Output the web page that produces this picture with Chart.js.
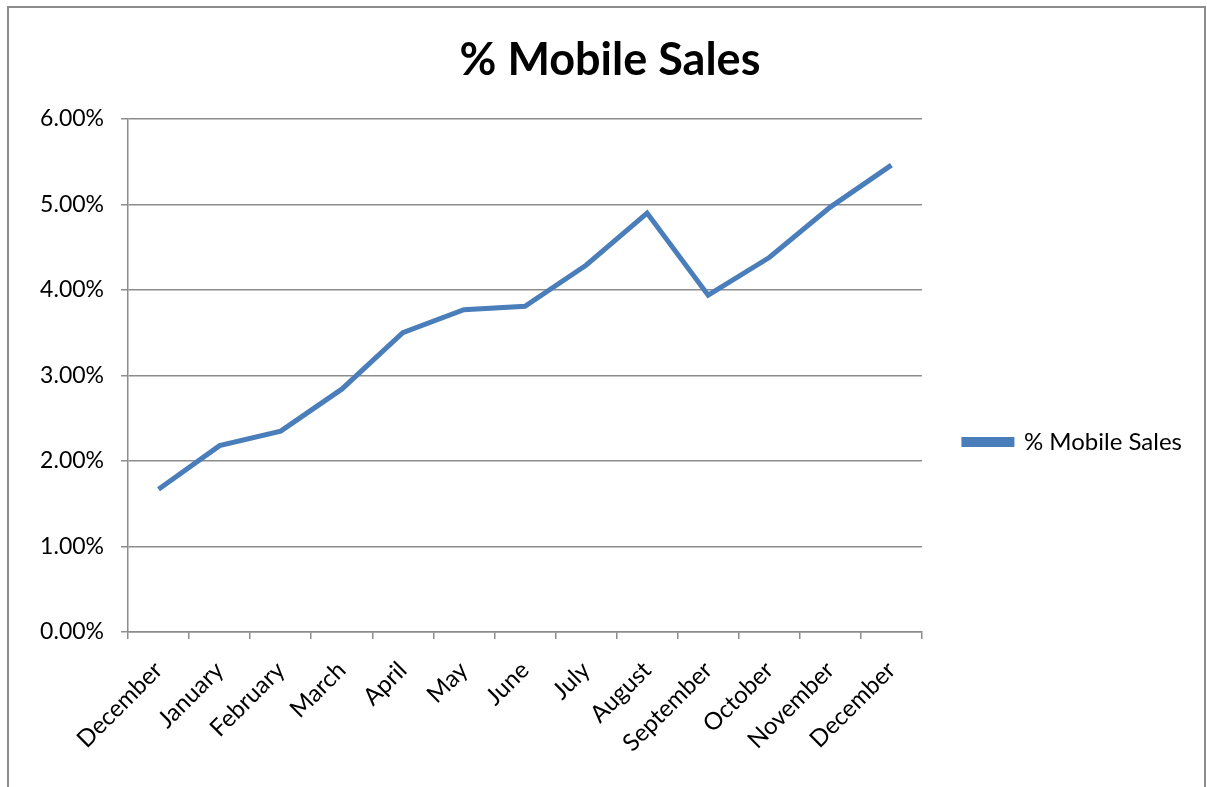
<!DOCTYPE html>
<html>
<head>
  <meta charset="UTF-8">
  <title>% Mobile Sales</title>
  <script src="https://cdn.jsdelivr.net/npm/chart.js"></script>
  <style>
    html, body { margin: 0; padding: 0; background: #fff; overflow: hidden; }
    #marco { position: absolute; left: 7px; top: 6px; width: 1195px; height: 900px; border: 2px solid #8c8c8c; }
    #grafico { position: absolute; left: 0; top: 0; }
  </style>
</head>
<body>
  <div id="marco"></div>
  <canvas id="grafico" width="1207" height="787"></canvas>

  <script>
    // meses del periodo
    const meses = ['December', 'January', 'February', 'March', 'April', 'May', 'June',
                   'July', 'August', 'September', 'October', 'November', 'December'];
    // porcentaje de ventas móviles
    const ventasMoviles = [1.67, 2.18, 2.35, 2.84, 3.50, 3.77, 3.81, 4.29, 4.90, 3.94, 4.38, 4.97, 5.46];
    const marcasY = [0, 1, 2, 3, 4, 5, 6];

    const gris = '#8c8c8c';
    const azul = '#4a7ebb';
    const fuente = 'Lato, "Open Sans", sans-serif';

    new Chart(document.getElementById('grafico').getContext('2d'), {
      type: 'line',
      data: {
        labels: meses,
        datasets: [{
          label: '% Mobile Sales',
          data: ventasMoviles,
          borderColor: azul,
          backgroundColor: azul,
          borderWidth: 5,
          pointRadius: 0,
          tension: 0,
          fill: false
        }]
      },
      options: {
        responsive: false,
        animation: false,
        layout: { padding: { left: 28, right: 15, top: 0, bottom: 0 } },
        plugins: {
          title: {
            display: true,
            text: '% Mobile Sales',
            color: '#000',
            font: { family: fuente, size: 45, weight: 'bold', lineHeight: 1.2 },
            padding: { top: 33, bottom: 32 }
          },
          legend: {
            position: 'right',
            align: 'center',
            // título vacío para bajar la leyenda
            title: { display: true, text: '', font: { size: 10, lineHeight: 1.2 }, padding: { top: 0, bottom: 85 } },
            labels: {
              color: '#000',
              font: { family: fuente, size: 24 },
              boxWidth: 48,
              boxHeight: 5,
              padding: 42
            }
          },
          tooltip: { enabled: false }
        },
        scales: {
          x: {
            type: 'category',
            offset: true,
            grid: { display: true, offset: true, drawOnChartArea: false, drawTicks: true, tickLength: 7, color: gris, lineWidth: 1.5 },
            border: { display: true, color: gris, width: 1.5 },
            ticks: {
              color: '#000',
              font: { family: fuente, size: 24 },
              minRotation: 45,
              maxRotation: 45,
              autoSkip: false,
              padding: 17
            },
            afterFit: (escala) => { escala.height = 155; }
          },
          y: {
            min: 0,
            max: 6,
            afterBuildTicks: (escala) => { escala.ticks = marcasY.map(v => ({ value: v })); },
            grid: { color: gris, lineWidth: 1.5, tickLength: 7, drawTicks: true },
            border: { display: true, color: gris, width: 1.5 },
            ticks: {
              color: '#000',
              font: { family: fuente, size: 23 },
              padding: 17,
              callback: (v) => v.toFixed(2) + '%'
            },
            afterFit: (escala) => { escala.width = 100; }
          }
        }
      }
    });
  </script>
</body>
</html>
